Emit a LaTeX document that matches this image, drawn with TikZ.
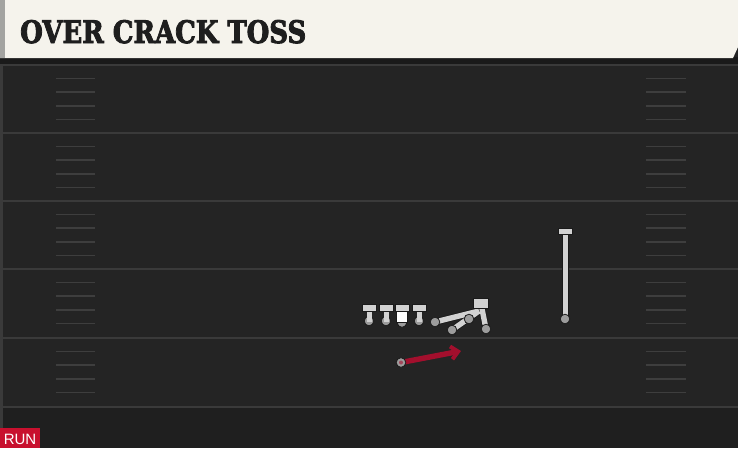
\documentclass[tikz,border=0pt]{standalone}
\usepackage{fontspec}
\usetikzlibrary{arrows.meta}
\newfontfamily\titlefont[BoldFeatures={FakeBold=3}]{DejaVu Serif}
\newfontfamily\labelfont{Liberation Sans}
\definecolor{bg}{HTML}{242424}
\definecolor{bgbottom}{HTML}{1F1F1F}
\definecolor{cream}{HTML}{F5F3EC}
\definecolor{stripe}{HTML}{A3A3A0}
\definecolor{shadowc}{HTML}{1A1A1A}
\definecolor{yardc}{HTML}{3A3A3A}
\definecolor{hashc}{HTML}{3E3E3E}
\definecolor{iconc}{HTML}{D2D2D2}
\definecolor{dotc}{HTML}{9C9C9C}
\definecolor{routered}{HTML}{A30F2D}
\definecolor{runred}{HTML}{C8102E}
\definecolor{titlec}{HTML}{1E1E1E}
\tikzset{
  yard/.style={draw=yardc, line width=2pt},
  hash/.style={draw=hashc, line width=1.6pt},
  iconline/.style={draw=iconc, line width=5.4pt},
  iconedge/.style={draw=shadowc, line width=7pt},
  stem/.style={draw=iconc, line width=5pt},
  tbar/.style={fill=iconc, draw=shadowc, line width=1pt},
  pdot/.style={fill=dotc, draw=shadowc, line width=0.8pt},
  route/.style={draw=routered, line width=5.4pt},
}
\begin{document}
\begin{tikzpicture}[x=1pt,y=-1pt]
\useasboundingbox (0,0) rectangle (738,448);
% field
\fill[bg] (0,0) rectangle (738,448);
\fill[bgbottom] (0,408) rectangle (738,448);
\fill[yardc] (0,60) rectangle (2.5,448);
\foreach \y in {65,133,201,269,338,407} \draw[yard] (0,\y) -- (738,\y);
\foreach \b in {65,133,201,269,338} {
  \foreach \k in {1,2,3,4} {
    \draw[hash] (56,{\b+13.6*\k}) -- (95,{\b+13.6*\k});
    \draw[hash] (646,{\b+13.6*\k}) -- (686,{\b+13.6*\k});
  }
}
% header
\fill[shadowc] (0,57) rectangle (738,64);
\fill[cream] (0,0) -- (738,0) -- (738,47) -- (733,58) -- (0,58) -- cycle;
\fill[stripe] (0,0) rectangle (5,58);
\node[anchor=base west, inner sep=0pt, text=titlec] (title) at (20,43)
  {\resizebox{286pt}{23pt}{\titlefont\bfseries OVER CRACK TOSS}};
% offensive line
\foreach \n/\c in {lt/369,lg/386,rg/419} {
  \coordinate (\n top) at (\c,309);
  \coordinate (\n) at (\c,321);
  \fill[pdot] (\n) circle (4.8);
  \draw[stem] (\n top) -- ([yshift=-1pt]\n);
  \filldraw[tbar] (\c-7,304.5) rectangle (\c+7,311.5);
}
\coordinate (ctop) at (402,309);
\coordinate (c) at (402,322.5);
\fill[pdot] (c) circle (4.8);
\fill[draw=shadowc, fill=white, line width=0.8pt] (396.5,311) rectangle (407.5,322.5);
\filldraw[tbar] (395,304.5) rectangle (409,311.5);
% crack block cluster
\coordinate (te) at (435,322);
\coordinate (tem) at (469,319);
\coordinate (wing) at (452,330);
\coordinate (blk) at (481,304);
\coordinate (blkbase) at (479,311);
\coordinate (te2) at (486,329);
\draw[iconedge] (te) -- (blkbase);
\draw[iconedge] (wing) -- (blkbase);
\draw[iconedge] (te2) -- (blk);
\draw[iconline] (te) -- (blkbase);
\draw[iconline] (wing) -- (blkbase);
\draw[iconline] (te2) -- (blk);
\foreach \p in {te,tem,wing,te2} \fill[pdot] (\p) circle (4.8);
\filldraw[tbar] (473.5,298) rectangle (488.5,308);
% deep receiver
\coordinate (wrtop) at (565,231);
\coordinate (wr) at (565,319);
\draw[iconedge] (wrtop) -- (wr);
\draw[stem] (wrtop) -- (wr);
\fill[pdot] (wr) circle (4.8);
\filldraw[tbar] (558,228.5) rectangle (572,234.5);
% run route
\coordinate (rb) at (401,362.5);
\coordinate (rbend) at (461,351);
\draw[route, -{Straight Barb[length=7pt,width=13pt,line width=4pt]}] (rb) -- (rbend);
\fill[pdot] (rb) circle (4.8);
\fill[routered!60!dotc] (rb) circle (2);
% label
\fill[runred] (0,428) rectangle (40,448);
\node[anchor=base, inner sep=0pt, text=white, font=\labelfont\fontsize{15}{15}\selectfont] (run) at (20,444) {RUN};
\end{tikzpicture}
\end{document}
